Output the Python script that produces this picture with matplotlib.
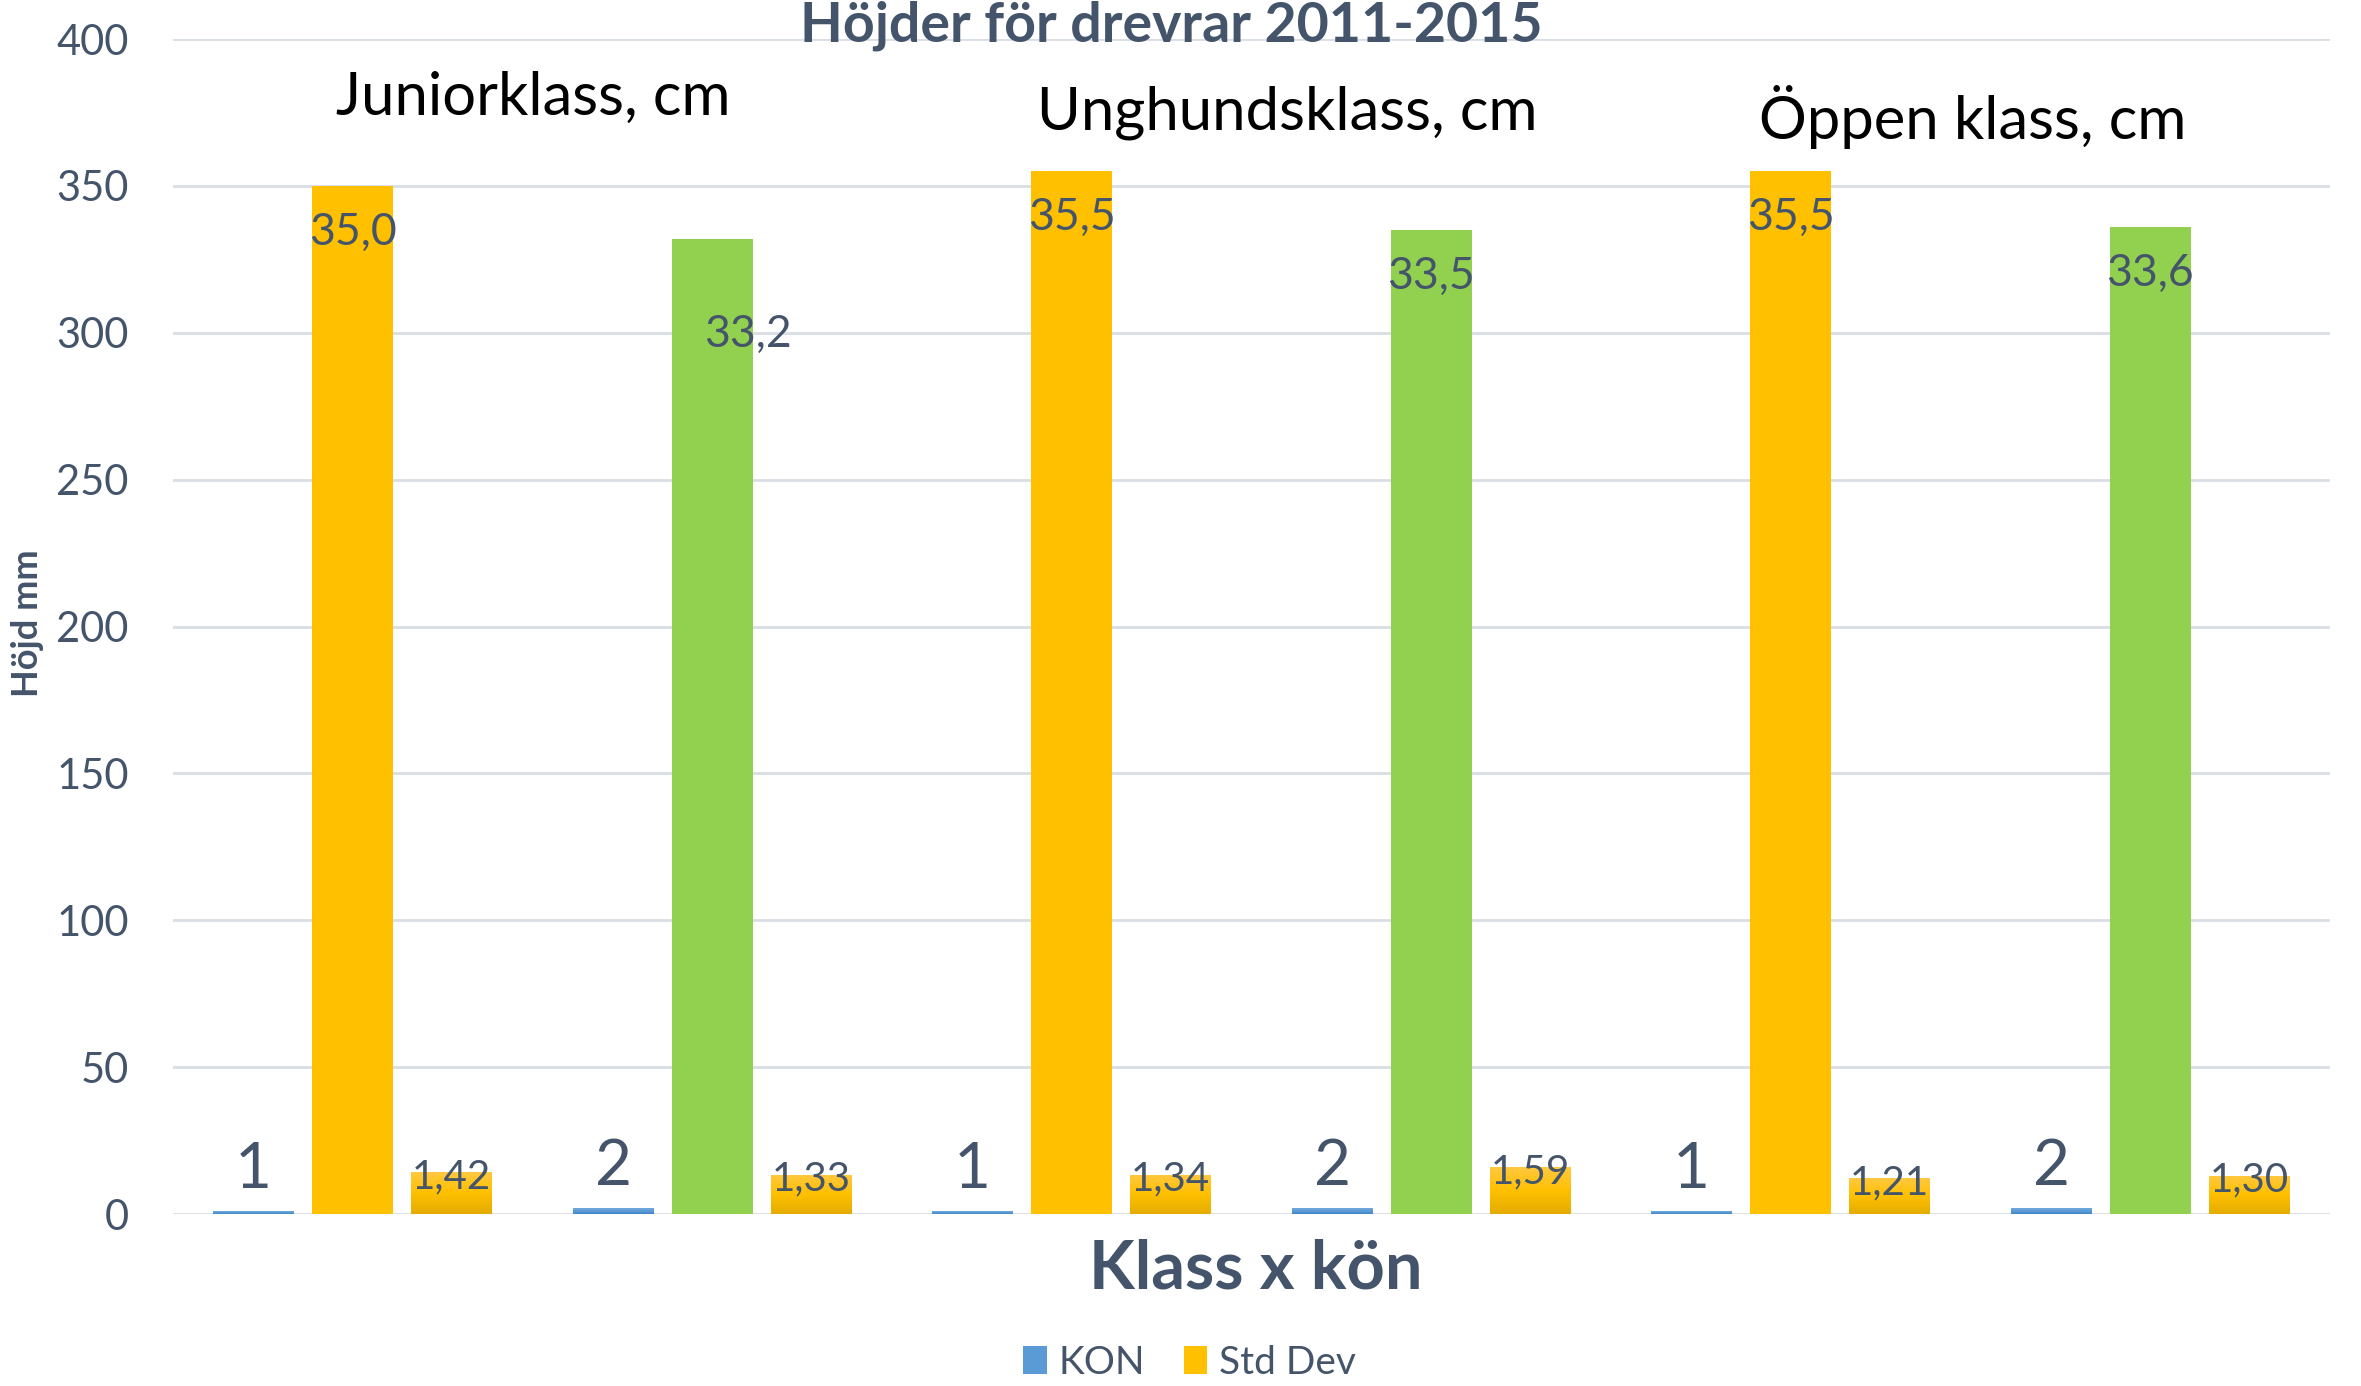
import matplotlib
matplotlib.use("Agg")
import matplotlib.pyplot as plt
import numpy as np
from matplotlib.patches import Patch
from matplotlib.colors import LinearSegmentedColormap

plt.rcParams['font.family'] = ['Lato', 'DejaVu Sans']

# ---- data ----
groups = ["Junior 1", "Junior 2", "Unghund 1", "Unghund 2", "Öppen 1", "Öppen 2"]
kon = [1, 2, 1, 2, 1, 2]
mean_mm = [350, 332, 355, 335, 355, 336]
mean_labels = ["35,0", "33,2", "35,5", "33,5", "35,5", "33,6"]
std_mm = [14.2, 13.3, 13.4, 15.9, 12.1, 13.0]
std_labels = ["1,42", "1,33", "1,34", "1,59", "1,21", "1,30"]
mean_colors = ["#FFC000", "#92D050", "#FFC000", "#92D050", "#FFC000", "#92D050"]
class_titles = ["Juniorklass, cm", "Unghundsklass, cm", "Öppen klass, cm"]
yticks = [0, 50, 100, 150, 200, 250, 300, 350, 400]

TXT = "#44546A"
W, H = 2361, 1386
S = 1.5057
fig = plt.figure(figsize=(W / 100, H / 100), dpi=100)
ax = fig.add_axes([173 / W, 172 / H, (2330 - 173) / W, (1214 - 39) / H])

x = np.arange(len(groups))
bw = 0.225
off = 0.2755

kon_bars = ax.bar(x - off, kon, bw, color="#5B9BD5", zorder=3)
mean_bars = ax.bar(x, mean_mm, bw, color=mean_colors, zorder=3)
std_bars = ax.bar(x + off, std_mm, bw, color="#FFC000", zorder=3)

def grad(bars, top, mid, bot):
    cmap = LinearSegmentedColormap.from_list("g", [bot, mid, top])
    g = np.linspace(0, 1, 64).reshape(-1, 1)
    for b in bars:
        x0, y0 = b.get_x(), b.get_y()
        im = ax.imshow(g, cmap=cmap, origin="lower", aspect="auto",
                       extent=[x0, x0 + b.get_width(), y0, y0 + b.get_height()],
                       zorder=3.5)
        im.set_clip_path(b)

grad(kon_bars, "#71A9DE", "#5B9BD5", "#3F84C6")
grad(std_bars, "#FFC840", "#FFC000", "#E3AC00")

ax.set_xlim(-0.5, 5.5)
ax.set_ylim(0, 400)
ax.set_yticks(yticks)
ax.set_yticklabels([str(v) for v in yticks], fontsize=30, color=TXT)
ax.set_xticks([])
ax.tick_params(axis='y', length=0, pad=32)
for s in ax.spines.values():
    s.set_visible(False)
ax.yaxis.grid(True, color="#D9DDE4", linewidth=2, zorder=0)
ax.set_axisbelow(True)

# labels
for i in range(len(groups)):
    ax.text(x[i] - off, kon[i] + 4, str(kon[i]), ha="center", va="bottom",
            fontsize=46, color=TXT, zorder=5)
    dx = 0.1 if i == 1 else 0.0
    dy = 64 if i == 1 else 31
    ax.text(x[i] + dx, mean_mm[i] - dy * 400 / 1175 * 1.5, mean_labels[i], ha="center",
            va="center", fontsize=32, color=TXT, zorder=5)
    ax.text(x[i] + off, std_mm[i] - 1.5, std_labels[i], ha="center", va="center",
            fontsize=29, color=TXT, zorder=5)

# class titles
title_pos = [(354, 65), (855, 75), (1310, 78)]
for t, (px, py) in zip(class_titles, title_pos):
    fig.text(px * S / W, 1 - py * S / H, t, ha="center", va="center",
             fontsize=43, color="black")

fig.text(778 * S / W, 1 - 17 * S / H, "Höjder för drevrar 2011-2015",
         ha="center", va="center", fontsize=40, fontweight="bold", color=TXT)
fig.text(18 * S / W, 1 - 414 * S / H, "Höjd mm", rotation=90,
         ha="center", va="center", fontsize=26, fontweight="bold", color=TXT)
fig.text(834 * S / W, 1 - 843 * S / H, "Klass x kön",
         ha="center", va="center", fontsize=48, fontweight="bold", color=TXT)

handles = [Patch(facecolor="#5B9BD5", label="KON"),
           Patch(facecolor="#FFC000", label="Std Dev")]
fig.legend(handles=handles, loc="center", bbox_to_anchor=(790 * S / W, 1 - 905 * S / H),
           ncol=2, frameon=False, fontsize=28, labelcolor=TXT,
           handlelength=0.6, handleheight=0.7, handletextpad=0.3, columnspacing=1.0)

fig.savefig("out.png", dpi=100)
